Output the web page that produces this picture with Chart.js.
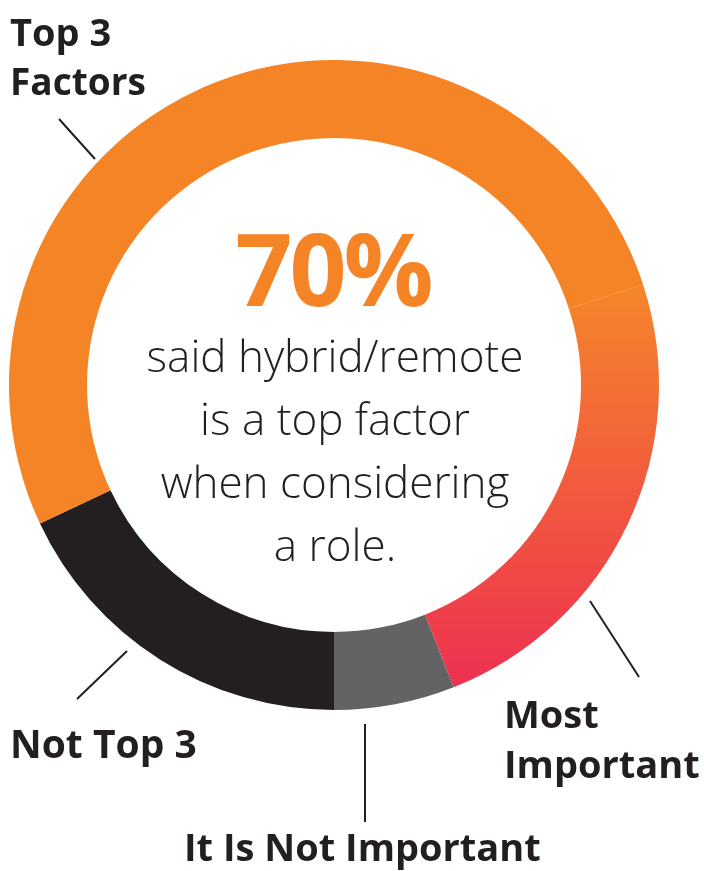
<!DOCTYPE html>
<html>
<head>
<meta charset="utf-8">
<script src="https://cdn.jsdelivr.net/npm/chart.js@4"></script>
<style>
  html, body { margin: 0; padding: 0; background: #fff; }
  #wrap { position: relative; width: 704px; height: 871px; overflow: hidden; }
  #chart { position: absolute; left: 0; top: 0; }
  .lbl { position: absolute; white-space: nowrap; line-height: 1; font-family: "Open Sans", "Noto Sans", sans-serif; color: #231f20; }
</style>
</head>
<body>
<div id="wrap">
  <canvas id="chart" width="704" height="871"></canvas>
</div>
<script>
// segment data, clockwise from the right side
let categories = ["Most Important", "It Is Not Important", "Not Top 3", "Top 3 Factors"];
let values = [24, 6, 18, 52];
let colors = ["gradient", "#636365", "#231f20", "#f58426"];

let bigNumber = "70%";
let centerLines = ["said hybrid/remote", "is a top factor", "when considering", "a role."];

// text pieces: [text, x, baseline, size, weight, align]
let labels = [
    ["Top 3", 10, 46, 38, 700, "left"],
    ["Factors", 10, 95, 37, 700, "left"],
    ["Not Top 3", 10, 758, 39, 700, "left"],
    ["Most", 504, 728, 38, 700, "left"],
    ["Important", 504, 778, 38, 700, "left"],
    ["It Is Not Important", 184, 861, 38, 700, "left"]
];

function addText(text, x, baseline, size, weight, align, color, spacing) {
    let el = document.createElement("div");
    el.className = "lbl";
    el.textContent = text;
    el.style.fontSize = size + "px";
    el.style.fontWeight = weight;
    el.style.top = (baseline - size * 0.888) + "px";
    if (color) el.style.color = color;
    if (spacing) el.style.letterSpacing = spacing + "px";
    if (align === "center") {
        el.style.left = (x - 300) + "px";
        el.style.width = "600px";
        el.style.textAlign = "center";
    } else {
        el.style.left = x + "px";
    }
    document.getElementById("wrap").appendChild(el);
}

labels.forEach(l => addText(l[0], l[1], l[2], l[3], l[4], l[5]));
addText(bigNumber, 333, 306, 100, 700, "center", "#f58426", -3);
centerLines.forEach((t, i) => addText(t, 335, 372 + i * 63, 44, 300, "center", "#231f20"));

// leader lines, given as offsets from the ring center (outer radius 325)
let leaders = [
    [-239, -226, -275, -266],
    [-207, 266, -257, 314],
    [256, 216, 305, 292],
    [31, 339, 31, 437]
];

const leaderPlugin = {
    id: "leaders",
    afterDraw(chart) {
        let arc = chart.getDatasetMeta(0).data[0];
        if (!arc) return;
        let c = chart.ctx;
        let k = arc.outerRadius / 325;
        c.save();
        c.strokeStyle = "#231f20";
        c.lineWidth = 2;
        leaders.forEach(p => {
            c.beginPath();
            c.moveTo(arc.x + p[0] * k, arc.y + p[1] * k);
            c.lineTo(arc.x + p[2] * k, arc.y + p[3] * k);
            c.stroke();
        });
        c.restore();
    }
};

function segColor(ctx) {
    let col = colors[ctx.dataIndex];
    if (col !== "gradient") return col;
    let area = ctx.chart.chartArea;
    if (!area) return "#f58426";
    let g = ctx.chart.ctx.createLinearGradient(0, area.top + area.height * 0.35, 0, area.top + area.height * 0.96);
    g.addColorStop(0, "#f5852a");
    g.addColorStop(1, "#ee3151");
    return g;
}

new Chart(document.getElementById("chart").getContext("2d"), {
    type: "doughnut",
    data: {
        labels: categories,
        datasets: [{
            data: values,
            backgroundColor: segColor,
            borderWidth: 0,
            hoverOffset: 0
        }]
    },
    options: {
        responsive: false,
        animation: false,
        rotation: 72,
        cutout: "76%",
        layout: { padding: { left: 9, top: 60, right: 45, bottom: 161 } },
        plugins: {
            legend: { display: false },
            tooltip: { enabled: false }
        }
    },
    plugins: [leaderPlugin]
});
</script>
</body>
</html>
